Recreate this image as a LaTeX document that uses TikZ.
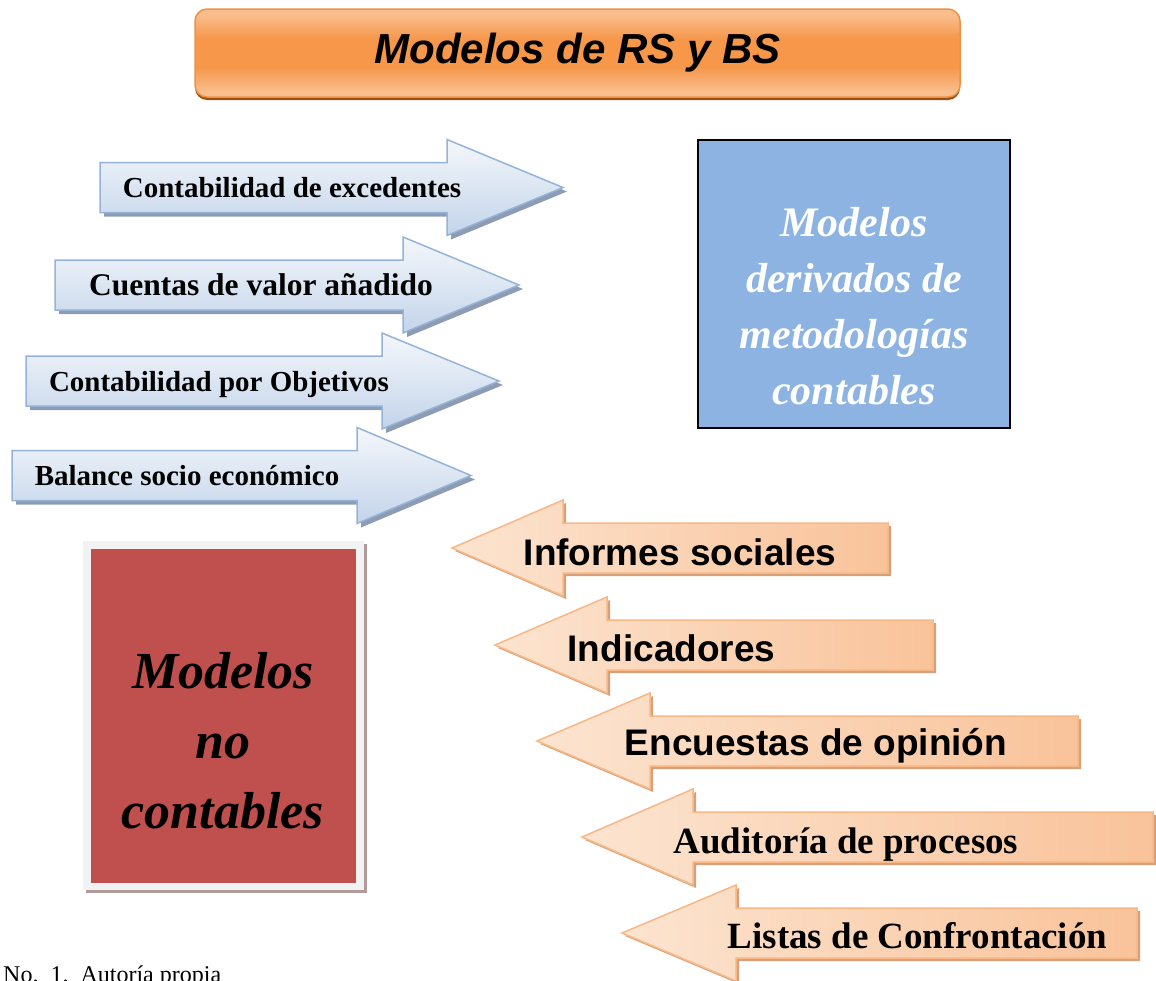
\documentclass[tikz,border=0pt]{standalone}
\usepackage{fontspec}
\setmainfont{Liberation Serif}
\setsansfont{Liberation Sans}

\definecolor{titlelight}{HTML}{F9BE8E}
\definecolor{titlemid}{HTML}{F6974A}
\definecolor{titleline}{HTML}{EE9145}
\definecolor{titleshade}{HTML}{9B4F13}
\definecolor{bluetop}{HTML}{F4F7FB}
\definecolor{bluebot}{HTML}{C3D4EA}
\definecolor{blueline}{HTML}{95B3D7}
\definecolor{blueshade}{HTML}{8D9CB2}
\definecolor{boxblue}{HTML}{8DB3E2}
\definecolor{boxred}{HTML}{C0504D}
\definecolor{frameg}{HTML}{F2F2F2}
\definecolor{redshade}{HTML}{B09A9A}
\definecolor{peachl}{HTML}{FCE4D0}
\definecolor{peachr}{HTML}{F9C39A}
\definecolor{peachline}{HTML}{F8B784}
\definecolor{peachshade}{HTML}{D6A07A}

\pgfdeclareverticalshading{titleshading}{100bp}{color(0bp)=(titlelight); color(28bp)=(titlelight);
  color(42bp)=(titlemid); color(58bp)=(titlemid); color(72bp)=(titlelight); color(100bp)=(titlelight)}

\tikzset{
  titlebox/.style={draw=titleline, line width=1.5pt, shading=titleshading},
  bluearr/.style={draw=blueline, line width=1.5pt, top color=bluetop, bottom color=bluebot},
  peacharr/.style={draw=peachline, line width=1.5pt, left color=peachl, right color=peachr},
  bluetext/.style={anchor=base, inner sep=0pt},
  peachtext/.style={anchor=base, inner sep=0pt, font=\sffamily\bfseries\fontsize{37}{44}\selectfont},
}

% right arrow: left end, head base, centre y, tip
\newcommand{\blueArrow}[4]{%
  \fill[blueshade, shift={(4,4)}] (#1,#3-25) -- (#2,#3-25) -- (#2,#3-48) -- (#4,#3)
    -- (#2,#3+48) -- (#2,#3+25) -- (#1,#3+25) -- cycle;
  \path[bluearr] (#1,#3-25) -- (#2,#3-25) -- (#2,#3-48) -- (#4,#3)
    -- (#2,#3+48) -- (#2,#3+25) -- (#1,#3+25) -- cycle;}
% left arrow: tip, head base, centre y, right end
\newcommand{\peachArrow}[4]{%
  \fill[peachshade, shift={(3,3)}] (#4,#3-25) -- (#2,#3-25) -- (#2,#3-48) -- (#1,#3)
    -- (#2,#3+48) -- (#2,#3+25) -- (#4,#3+25) -- cycle;
  \path[peacharr] (#4,#3-25) -- (#2,#3-25) -- (#2,#3-48) -- (#1,#3)
    -- (#2,#3+48) -- (#2,#3+25) -- (#4,#3+25) -- cycle;}

\begin{document}
\begin{tikzpicture}[x=1pt,y=-1pt]
  \useasboundingbox (0,0) rectangle (1156,980);

  % titulo
  \fill[titleshade, rounded corners=12pt] (195,12) rectangle (960,100);
  \path[titlebox, rounded corners=12pt] (195,9) rectangle (960,97);
  \node[anchor=base, inner sep=0pt, font=\sffamily\bfseries\itshape\fontsize{42}{50}\selectfont] (titulo) at (577.5,63) {Modelos de RS y BS};

  % metodologias contables
  \blueArrow{100}{447}{187.5}{563}
  \blueArrow{55}{403}{285}{519}
  \blueArrow{26}{382}{381}{499}
  \blueArrow{12}{357}{475.5}{471}
  \node[bluetext, font=\bfseries\fontsize{29}{35}\selectfont] (excedentes) at (292,197) {Contabilidad de excedentes};
  \node[bluetext, font=\bfseries\fontsize{31.5}{38}\selectfont] (valor) at (261,295) {Cuentas de valor añadido};
  \node[bluetext, font=\bfseries\fontsize{29}{35}\selectfont] (objetivos) at (219,391) {Contabilidad por Objetivos};
  \node[bluetext, font=\bfseries\fontsize{29}{35}\selectfont] (balance) at (187,485) {Balance socio económico};

  \draw[fill=boxblue, line width=2pt] (698,140) rectangle (1010,428);
  \node[inner sep=0pt, align=center, text=white, font=\bfseries\itshape\fontsize{42}{56}\selectfont] (derivados) at (854,305.7) {Modelos\\derivados de\\metodologías\\contables};

  % no contables
  \fill[redshade] (86,544) rectangle (367,893);
  \fill[frameg] (83,541) rectangle (364,890);
  \fill[boxred] (91,549) rectangle (356,883);
  \node[inner sep=0pt, align=center, font=\bfseries\itshape\fontsize{52}{70}\selectfont] (nocontables) at (223,741) {Modelos\\no\\contables};

  \peachArrow{452}{563}{548}{888}
  \peachArrow{495}{607}{645}{933}
  \peachArrow{537}{650}{741}{1078}
  \peachArrow{582}{693}{837}{1153}
  \peachArrow{622}{736}{933}{1137}
  \node[peachtext] (informes) at (680,565) {Informes sociales};
  \node[peachtext] (indicadores) at (671.5,661) {Indicadores};
  \node[peachtext] (encuestas) at (816,755) {Encuestas de opinión};
  \node[peachtext, font=\bfseries\fontsize{37}{44}\selectfont] (auditoria) at (846,853) {Auditoría de procesos};
  \node[peachtext, font=\bfseries\fontsize{37}{44}\selectfont] (listas) at (917.5,948) {Listas de Confrontación};

  %\node (n) at (578,120) {};
  \node[anchor=base west, inner sep=0pt, font=\fontsize{24}{28}\selectfont] (fuente) at (3,982) {No.~~1.~~Autoría propia};
\end{tikzpicture}
\end{document}
